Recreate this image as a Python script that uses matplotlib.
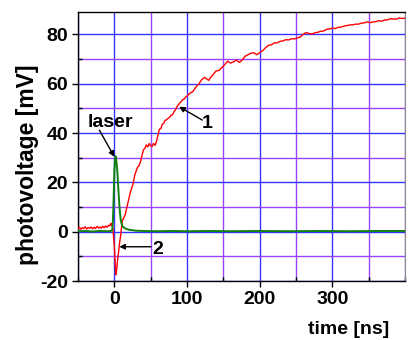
import matplotlib
matplotlib.use("Agg")
import matplotlib.pyplot as plt
from matplotlib.ticker import MultipleLocator

plt.rcParams['font.family'] = ['Liberation Sans', 'DejaVu Sans']
plt.rcParams['font.weight'] = 'bold'

# ---- data ----
t_red = [-50, -48, -46, -44, -42, -40, -38, -36, -34, -32, -30, -28, -26, -24, -22, -20, -18, -16, -14, -12,
         -10, -8, -6, -5, -4, -3, -2, -1, 0, 1, 2, 3, 4, 5, 6, 7, 8, 9, 10, 11, 12, 13, 14, 15, 16, 18, 20,
         22, 24, 26, 28, 30, 32, 34, 36, 38, 40, 42, 44, 46, 48, 50, 52, 54, 56, 58, 60, 62, 64, 66, 68, 70,
         72, 74, 76, 78, 80, 82, 84, 86, 88, 90, 92, 94, 96, 98, 100,
         104, 108, 112, 116, 120, 124, 128, 130, 132, 136, 140, 144, 148, 152, 156, 160, 164, 168, 172, 176,
         180, 184, 188, 192, 196, 200, 204, 208, 212, 216, 220, 224, 228, 232, 236, 240, 244, 248, 252, 256,
         260, 264, 268, 272, 276, 280, 284, 288, 292, 296, 300, 304, 308, 312, 316, 320, 324, 328, 332, 336,
         340, 344, 348, 352, 356, 360, 364, 368, 372, 376, 380, 384, 388, 392, 396, 400]
v_red = [1.2, 1.8, 1.0, 1.6, 1.3, 2.0, 1.1, 1.7, 1.4, 1.9, 1.2, 1.8, 1.3, 2.1, 1.5, 1.9, 1.4, 2.2, 1.6, 2.3,
         1.8, 2.6, 2.4, 3.4, 2.6, 3.2, 1.5, -2.0, -6.0, -12.0, -17.5, -16.0, -13.0, -10.0, -8.0, -5.0, -3.0, -1.0, 2.0, 4.5, 5.0, 5.6, 6.2, 7.0, 8.2, 10.8, 13.2,
         16.0, 17.8, 19.6, 22.8, 24.6, 26.2, 26.8, 28.4, 30.8, 33.2, 33.8, 35.2, 34.4, 35.8, 34.8, 34.6, 35.8, 35.0, 36.6, 39.2, 41.6, 41.8, 43.6, 44.0, 45.2,
         45.4, 46.0, 46.4, 47.2, 47.4, 48.6, 49.4, 50.6, 51.4, 52.2, 52.8, 53.6, 53.8, 54.6, 55.0,
         56.2, 56.8, 58.6, 59.8, 61.6, 62.6, 61.8, 61.4, 62.4, 63.8, 65.2, 65.4, 66.6, 67.8, 69.2, 68.4, 68.9, 69.6, 68.7, 69.6,
         71.2, 71.8, 72.4, 72.6, 71.8, 72.6, 73.4, 74.6, 75.6, 75.8, 76.6, 76.6, 77.2, 77.4, 77.9, 77.8, 78.3, 78.2, 78.6, 79.0,
         80.1, 80.8, 80.4, 80.2, 80.7, 80.9, 81.3, 81.4, 82.1, 82.2, 82.6, 82.4, 82.9, 83.0, 83.4, 83.6, 83.9, 83.9, 84.2, 84.2,
         84.6, 84.7, 85.1, 84.8, 85.1, 85.2, 85.6, 85.4, 85.9, 85.9, 86.4, 86.3, 86.2, 86.7, 86.5, 86.6]

t_green = [-50, -40, -30, -20, -10, -5, -3, -2, -1, 0, 1, 2, 3, 4, 5, 6, 7, 8, 9, 10, 11, 12, 14, 16, 18,
           20, 25, 30, 40, 60, 80, 100, 130, 160, 200, 240, 280, 320, 360, 400]
v_green = [0.2, 0.3, 0.1, 0.3, 0.2, 0.3, 0.6, 4.0, 13.0, 24.0, 30.0, 30.6, 28.0, 25.0, 20.0, 15.0, 10.5, 7.0, 4.5, 3.2, 2.4, 2.0, 1.5, 1.2, 1.0,
           0.8, 0.6, 0.4, 0.3, 0.2, 0.3, 0.2, 0.3, 0.2, 0.3, 0.2, 0.3, 0.2, 0.3, 0.3]

x_major = [0, 100, 200, 300]
x_labels = ['0', '100', '200', '300']
y_major = [-20, 0, 20, 40, 60, 80]
y_labels = ['-20', '0', '20', '40', '60', '80']

fig = plt.figure(figsize=(4.12, 3.40), dpi=100)
ax = fig.add_axes([0.1893, 0.1735, 0.7937, 0.7903])

ax.set_xlim(-50, 400)
ax.set_ylim(-20, 89)

ax.set_xticks(x_major)
ax.set_xticklabels(x_labels)
ax.set_yticks(y_major)
ax.set_yticklabels(y_labels)
ax.xaxis.set_minor_locator(MultipleLocator(50))
ax.yaxis.set_minor_locator(MultipleLocator(10))

ax.grid(True, which='major', color='#3333ff', lw=1.0)
ax.grid(True, which='minor', color='#9a44ff', lw=1.0)
ax.set_axisbelow(True)

ax.tick_params(which='major', direction='out', length=4, width=1, labelsize=14, pad=3)
ax.tick_params(which='minor', direction='in', length=3, width=1)
ax.tick_params(top=False, right=False)
for lab in ax.get_xticklabels() + ax.get_yticklabels():
    lab.set_fontweight('bold')

for s in ['left', 'bottom', 'top']:
    ax.spines[s].set_color('black')
    ax.spines[s].set_linewidth(1.0)
ax.spines['right'].set_color('#888888')

ax.plot(t_red, v_red, color='#ff0000', lw=1.0, zorder=3)
ax.plot(t_green, v_green, color='#108010', lw=1.4, zorder=4)

arrow = dict(arrowstyle='-|>', color='black', lw=1.0, mutation_scale=8, shrinkA=0, shrinkB=0)
ax.annotate('', xy=(0, 30.4), xytext=(-20.6, 41.2), arrowprops=arrow, zorder=5)
ax.text(-5.5, 44.5, 'laser', fontsize=14, fontweight='bold', ha='center', va='center')
ax.annotate('', xy=(89.3, 50.7), xytext=(120.9, 45.3), arrowprops=arrow, zorder=5)
ax.text(127.8, 43.9, '1', fontsize=14, fontweight='bold', ha='center', va='center')
ax.annotate('', xy=(6.9, -6.1), xytext=(50.4, -6.1), arrowprops=arrow, zorder=5)
ax.text(59.5, -7.4, '2', fontsize=14, fontweight='bold', ha='center', va='center')

ax.text(0.951, -0.182, 'time [ns]', transform=ax.transAxes, fontsize=14, fontweight='bold',
        ha='right', va='center')
fig.text(28 / 412, 1 - 165 / 340, 'photovoltage [mV]', rotation=90, fontsize=16.5, fontweight='bold',
         ha='center', va='center')

fig.savefig('out.png', dpi=100)
